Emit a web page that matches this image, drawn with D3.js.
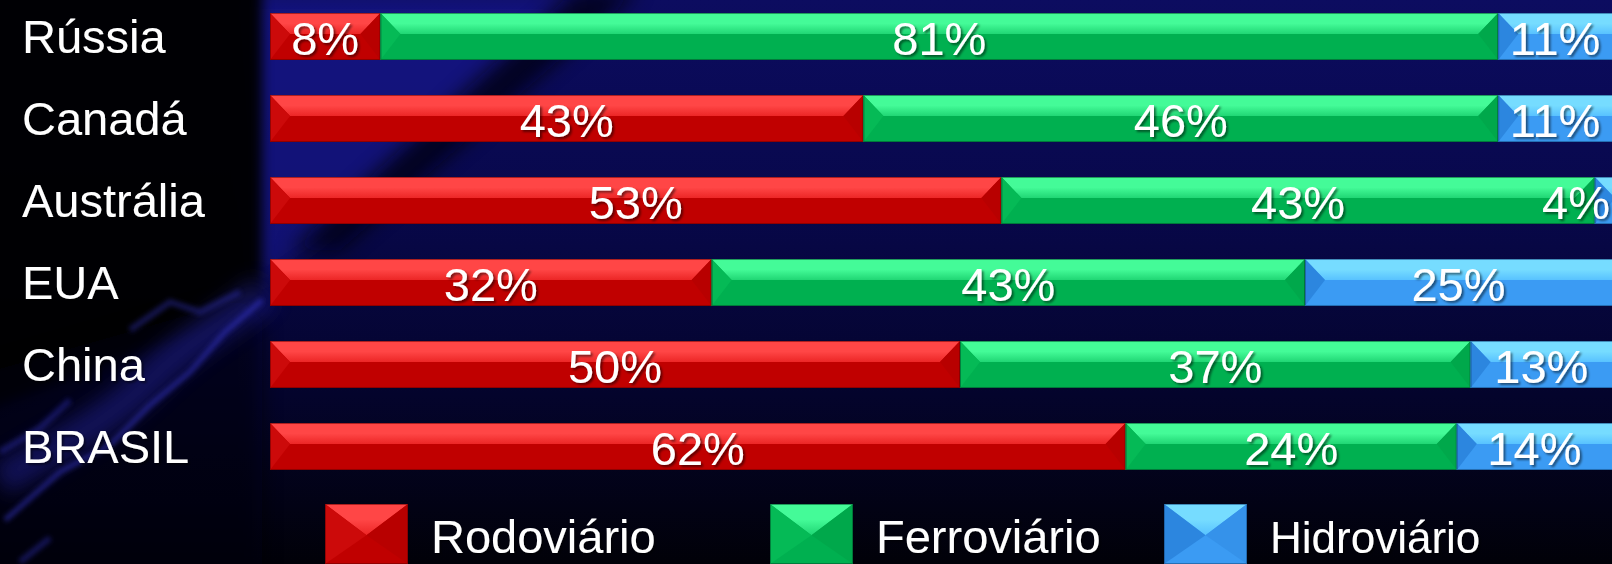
<!DOCTYPE html>
<html><head><meta charset="utf-8">
<script src="https://cdn.jsdelivr.net/npm/d3@7"></script>
<style>html,body{margin:0;padding:0;background:#000;overflow:hidden}</style>
</head><body>
<svg id="chart" width="1612" height="564"></svg>
<script>
// ---- data ----
const categories = ["Rússia", "Canadá", "Austrália", "EUA", "China", "BRASIL"];
const series = ["Rodoviário", "Ferroviário", "Hidroviário"];
const rodoviario  = [8, 43, 53, 32, 50, 62];
const ferroviario = [81, 46, 43, 43, 37, 24];
const hidroviario = [11, 11, 4, 25, 13, 14];

// ---- setup ----
const W = 1612, H = 564;
const svg = d3.select("#chart");
const defs = svg.append("defs");
const FONT = "'Liberation Sans', Arial, Helvetica, sans-serif";

const rows = categories.map((c, i) => ({
  cat: c,
  "Rodoviário": rodoviario[i],
  "Ferroviário": ferroviario[i],
  "Hidroviário": hidroviario[i]
}));
const stacked = d3.stack().keys(series)(rows);

const x = d3.scaleLinear().domain([0, 100]).range([270, 1650]);
const y = d3.scaleBand().domain(categories).range([-4.5, 487.5])
  .paddingInner(0.427).paddingOuter(0.2135);

const palette = {
  "Rodoviário":  {main: "#c00000", t1: "#ff4646", t2: "#ec2626", left: "#cc0a0a", right: "#b80000", edge: "#6a0000"},
  "Ferroviário": {main: "#00b050", t1: "#44fb98", t2: "#20d674", left: "#05ba56", right: "#00a84b", edge: "#00502a"},
  "Hidroviário": {main: "#3b9bf3", t1: "#76dcff", t2: "#58c2ff", left: "#2c86df", right: "#3592ea", edge: "#164a80"}
};
const colorKey = d3.scaleOrdinal().domain(series).range(series.map((s, i) => "k" + i));

// gradients
series.forEach(s => {
  const g = defs.append("linearGradient").attr("id", "top-" + colorKey(s))
    .attr("x1", 0).attr("y1", 0).attr("x2", 0).attr("y2", 1);
  g.append("stop").attr("offset", "0%").attr("stop-color", palette[s].t1);
  g.append("stop").attr("offset", "50%").attr("stop-color", palette[s].t1);
  g.append("stop").attr("offset", "100%").attr("stop-color", palette[s].t2);
});
const bg = defs.append("linearGradient").attr("id", "bg")
  .attr("x1", 0).attr("y1", 0).attr("x2", 0).attr("y2", 1);
[["0%", "#0c0c60"], ["35%", "#08084c"], ["70%", "#04042c"], ["100%", "#010108"]]
  .forEach(([o, c]) => bg.append("stop").attr("offset", o).attr("stop-color", c));

const blur = defs.append("filter").attr("id", "blur").attr("x", "-30%").attr("y", "-30%").attr("width", "160%").attr("height", "160%");
blur.append("feGaussianBlur").attr("stdDeviation", 10);
const blurS = defs.append("filter").attr("id", "blurS").attr("x", "-30%").attr("y", "-30%").attr("width", "160%").attr("height", "160%");
blurS.append("feGaussianBlur").attr("stdDeviation", 6);
const blur2 = defs.append("filter").attr("id", "blur2").attr("x", "-20%").attr("y", "-20%").attr("width", "140%").attr("height", "140%");
blur2.append("feGaussianBlur").attr("stdDeviation", 2.5);
const shadow = defs.append("filter").attr("id", "tshadow").attr("x", "-10%").attr("y", "-10%").attr("width", "130%").attr("height", "130%");
shadow.append("feDropShadow").attr("dx", 2).attr("dy", 2).attr("stdDeviation", 1.2)
  .attr("flood-color", "#000").attr("flood-opacity", 0.5);

// ---- background ----
svg.append("rect").attr("width", W).attr("height", H).attr("fill", "url(#bg)");
const bgG = svg.append("g");
// blue diagonal band
bgG.append("path").attr("d", "M250,0 L590,0 L320,240 L250,290 Z")
  .attr("fill", "#1a1aa0").attr("opacity", 0.5).attr("filter", "url(#blur)");
// black diagonal streak
bgG.append("path").attr("d", "M575,-10 L640,-10 L340,250 L290,250 Z")
  .attr("fill", "#000010").attr("opacity", 0.75).attr("filter", "url(#blur)");
// left dark panel (soft edges)
bgG.append("path").attr("d", "M-40,-40 L262,-40 L262,300 L200,330 L-40,420 Z")
  .attr("fill", "#000").attr("opacity", 0.95).attr("filter", "url(#blurS)");
bgG.append("path").attr("d", "M-40,380 L240,300 L262,320 L262,604 L-40,604 Z")
  .attr("fill", "#00000a").attr("opacity", 0.6).attr("filter", "url(#blur)");
// bluish map-like glow, lower left
bgG.append("path").attr("d", "M0,480 C60,445 110,420 150,380 C190,340 230,320 265,290")
  .attr("fill", "none").attr("stroke", "#2a2ab8").attr("stroke-width", 34)
  .attr("opacity", 0.4).attr("filter", "url(#blur)");
bgG.append("path").attr("d", "M5,520 L60,472 L110,445 L150,405 L190,372 L225,332 L262,300")
  .attr("fill", "none").attr("stroke", "#3a3ad8").attr("stroke-width", 5)
  .attr("opacity", 0.5).attr("filter", "url(#blur2)");
bgG.append("path").attr("d", "M20,562 L50,538 M0,452 L40,428 L70,400 M130,330 L170,302 L200,312 L240,292")
  .attr("fill", "none").attr("stroke", "#3434c8").attr("stroke-width", 6)
  .attr("opacity", 0.4).attr("filter", "url(#blur2)");

// ---- bevelled shape helpers ----
function bevelBar(g, x0, x1, y0, h, p, key) {
  const w = x1 - x0;
  const t = Math.round(h * 0.45);
  const d = Math.min(20, w / 2);
  const y1 = y0 + h;
  g.append("rect").attr("x", x0).attr("y", y0).attr("width", w).attr("height", h)
    .attr("fill", p.main);
  g.append("path")
    .attr("d", `M${x0},${y0} L${x1},${y0} L${x1 - d},${y0 + t} L${x0 + d},${y0 + t} Z`)
    .attr("fill", `url(#top-${key})`);
  g.append("path")
    .attr("d", `M${x0},${y0} L${x0 + d},${y0 + t} L${x0},${y1} Z`)
    .attr("fill", p.left);
  g.append("path")
    .attr("d", `M${x1},${y0} L${x1 - d},${y0 + t} L${x1},${y1} Z`)
    .attr("fill", p.right);
  g.append("rect").attr("x", x0 + 0.5).attr("y", y0 + 0.5).attr("width", w - 1).attr("height", h - 1)
    .attr("fill", "none").attr("stroke", p.edge).attr("stroke-opacity", 0.55).attr("stroke-width", 1);
}
function bevelSwatch(g, sx, sy, w, h, p, key) {
  const cx = sx + w / 2, cy = sy + h * 0.52;
  g.append("rect").attr("x", sx).attr("y", sy).attr("width", w).attr("height", h).attr("fill", p.main);
  g.append("path").attr("d", `M${sx},${sy} L${sx + w},${sy} L${cx},${cy} Z`).attr("fill", `url(#top-${key})`);
  g.append("path").attr("d", `M${sx},${sy} L${cx},${cy} L${sx},${sy + h} Z`).attr("fill", p.left);
  g.append("path").attr("d", `M${sx + w},${sy} L${cx},${cy} L${sx + w},${sy + h} Z`).attr("fill", p.right);
  g.append("rect").attr("x", sx + 0.5).attr("y", sy + 0.5).attr("width", w - 1).attr("height", h - 1)
    .attr("fill", "none").attr("stroke", p.edge).attr("stroke-opacity", 0.55);
}

// ---- bars ----
const barsG = svg.append("g");
stacked.forEach(layer => {
  const s = layer.key;
  layer.forEach(seg => {
    const g = barsG.append("g");
    bevelBar(g, x(seg[0]), x(seg[1]), y(seg.data.cat), y.bandwidth(), palette[s], colorKey(s));
  });
});

// ---- value labels ----
const labelsG = svg.append("g").attr("filter", "url(#tshadow)");
stacked.forEach(layer => {
  const s = layer.key;
  layer.forEach(seg => {
    const a = x(seg[0]), b = Math.min(x(seg[1]), W);
    const t = labelsG.append("text")
      .attr("x", (a + b) / 2)
      .attr("y", y(seg.data.cat) + 42)
      .attr("text-anchor", "middle")
      .attr("font-family", FONT).attr("font-size", 47).attr("fill", "#fff")
      .text(seg.data[s] + "%");
    const half = t.node().getComputedTextLength() / 2;
    if ((a + b) / 2 + half > W - 2) t.attr("x", W - 2 - half);
  });
});

// ---- category labels ----
svg.append("g").attr("filter", "url(#tshadow)")
  .selectAll("text").data(categories).join("text")
  .attr("x", 22)
  .attr("y", d => y(d) + 40)
  .attr("font-family", FONT).attr("font-size", 47).attr("fill", "#fff")
  .text(d => d);

// ---- legend ----
const legendX = [325, 770, 1164];
const legendSize = [47, 47, 44];
const legG = svg.append("g");
series.forEach((s, i) => {
  const g = legG.append("g");
  bevelSwatch(g, legendX[i], 504, 83, 60, palette[s], colorKey(s));
  g.append("text")
    .attr("x", legendX[i] + 106)
    .attr("y", 553)
    .attr("font-family", FONT).attr("font-size", legendSize[i]).attr("fill", "#fff")
    .attr("filter", "url(#tshadow)")
    .text(s);
});
</script>
</body></html>
